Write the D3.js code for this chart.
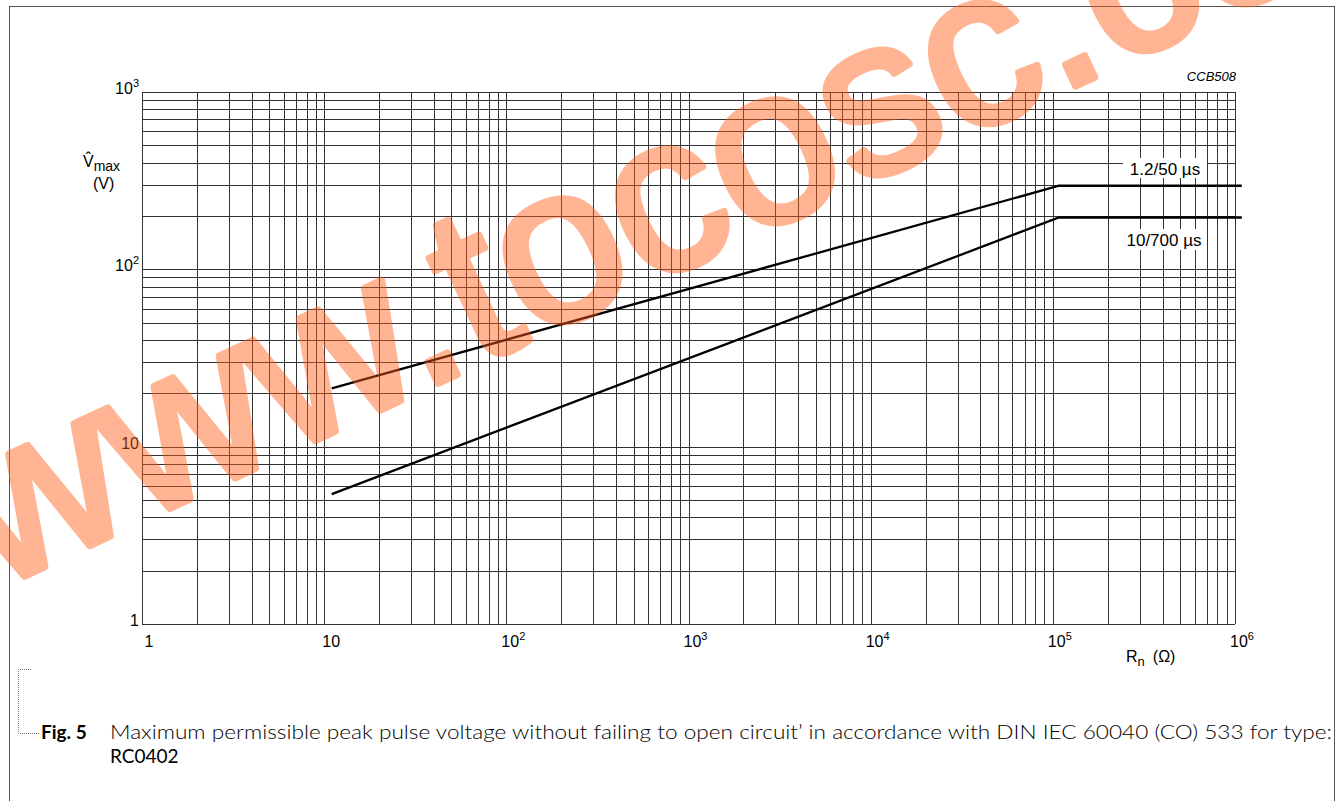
<!DOCTYPE html>
<html>
<head>
<meta charset="utf-8">
<script src="https://cdn.jsdelivr.net/npm/d3@7"></script>
<style>
  html, body { margin: 0; padding: 0; background: #fff; }
  svg { display: block; }
</style>
</head>
<body>
<svg id="chart" width="1340" height="801"></svg>
<script>
// values
const xDecades = [1, 10, 100, 1e3, 1e4, 1e5, 1e6];
const yDecades = [1, 10, 100, 1e3];
const seriesNames = ['1.2/50 µs', '10/700 µs'];
const rn = [11, 1.08e5, 1.09e6];
const v50 = [21.3, 296, 296];
const v700 = [5.4, 196, 196];
const captionFig = 'Fig. 5';
const captionText = 'Maximum permissible peak pulse voltage without failing to open circuit’ in accordance with DIN IEC 60040 (CO) 533 for type:';
const captionType = 'RC0402';
const watermark = 'www.tocosc.com';

const plot = { left: 142, right: 1235, top: 92, bottom: 624 };

const svg = d3.select('#chart');

const x = d3.scaleLog().domain([1, 1e6]).range([plot.left, plot.right]);
const y = d3.scaleLog().domain([1, 1e3]).range([plot.bottom, plot.top]);

// outer frame
svg.append('rect')
    .attr('x', 9.5).attr('y', 6.5)
    .attr('width', 1325).attr('height', 820)
    .attr('fill', 'none')
    .attr('stroke', '#555')
    .attr('stroke-width', 1);

// grid
const gGrid = svg.append('g')
    .attr('stroke', '#333')
    .attr('stroke-width', 1.2)
    .attr('shape-rendering', 'crispEdges');

gGrid.selectAll('line.v')
    .data(x.ticks())
    .enter().append('line')
    .attr('class', 'v')
    .attr('x1', d => Math.round(x(d)) + 0.5)
    .attr('x2', d => Math.round(x(d)) + 0.5)
    .attr('y1', plot.top)
    .attr('y2', plot.bottom);

gGrid.selectAll('line.h')
    .data(y.ticks())
    .enter().append('line')
    .attr('class', 'h')
    .attr('y1', d => Math.round(y(d)) + 0.5)
    .attr('y2', d => Math.round(y(d)) + 0.5)
    .attr('x1', plot.left)
    .attr('x2', plot.right);

// tick labels
const tickFont = 'Liberation Sans, Arial, Helvetica, sans-serif';

function powLabel(sel, d) {
    const p = Math.round(Math.log10(d));
    if (p === 0) {
        sel.text('1');
    } else if (p === 1) {
        sel.text('10');
    } else {
        sel.append('tspan').text('10');
        sel.append('tspan').attr('font-size', 11).attr('dy', -7).text(p);
    }
}

svg.append('g')
    .attr('font-family', tickFont)
    .attr('font-size', 16)
    .attr('fill', '#000')
    .selectAll('text')
    .data(xDecades)
    .enter().append('text')
    .attr('x', d => x(d) + 7)
    .attr('y', 647)
    .attr('text-anchor', 'middle')
    .each(function (d) { powLabel(d3.select(this), d); });

svg.append('g')
    .attr('font-family', tickFont)
    .attr('font-size', 16)
    .attr('fill', '#000')
    .selectAll('text')
    .data(yDecades)
    .enter().append('text')
    .attr('x', 139)
    .attr('y', d => y(d) + 2)
    .attr('text-anchor', 'end')
    .each(function (d) { powLabel(d3.select(this), d); });

// axis titles
const yTitle = svg.append('text')
    .attr('font-family', tickFont)
    .attr('font-size', 16)
    .attr('x', 83)
    .attr('y', 167);
yTitle.append('tspan').text('V̂');
yTitle.append('tspan').attr('font-size', 14).attr('dy', 4).text('max');
svg.append('text')
    .attr('font-family', tickFont)
    .attr('font-size', 16)
    .attr('x', 93)
    .attr('y', 189)
    .text('(V)');

const xTitle = svg.append('text')
    .attr('font-family', tickFont)
    .attr('font-size', 16)
    .attr('x', 1126)
    .attr('y', 662);
xTitle.append('tspan').text('R');
xTitle.append('tspan').attr('font-size', 13).attr('dy', 4).text('n');
xTitle.append('tspan').attr('dy', -4).attr('dx', 8).text('(Ω)');

svg.append('text')
    .attr('font-family', tickFont)
    .attr('font-size', 13)
    .attr('font-style', 'italic')
    .attr('x', 1236)
    .attr('y', 81)
    .attr('text-anchor', 'end')
    .text('CCB508');

// curves
const line = d3.line()
    .x(d => x(d[0]))
    .y(d => y(d[1]));

const series = [
    rn.map((r, i) => [r, v50[i]]),
    rn.map((r, i) => [r, v700[i]]),
];

svg.append('g')
    .attr('fill', 'none')
    .attr('stroke', '#000')
    .attr('stroke-width', 2.3)
    .selectAll('path')
    .data(series)
    .enter().append('path')
    .attr('d', line);

// curve labels with white boxes
const labelPos = [
    { x: 1165, y: 175, box: [1123, 158, 84, 20] },
    { x: 1164, y: 246, box: [1120, 229, 87, 21] },
];
const gLab = svg.append('g');
seriesNames.forEach((name, i) => {
    const p = labelPos[i];
    gLab.append('rect')
        .attr('x', p.box[0]).attr('y', p.box[1])
        .attr('width', p.box[2]).attr('height', p.box[3])
        .attr('fill', '#fff');
    gLab.append('text')
        .attr('font-family', tickFont)
        .attr('font-size', 17)
        .attr('x', p.x)
        .attr('y', p.y)
        .attr('text-anchor', 'middle')
        .text(name);
});

// caption
const capFont = 'Lato, "Open Sans", "DejaVu Sans", sans-serif';
svg.append('path')
    .attr('d', 'M31,669.5 H18.5 V733.5 H40')
    .attr('fill', 'none')
    .attr('stroke', '#777')
    .attr('stroke-width', 1)
    .attr('stroke-dasharray', '1,1');

svg.append('text')
    .attr('font-family', capFont)
    .attr('font-size', 19)
    .attr('font-weight', 700)
    .attr('x', 41)
    .attr('y', 739)
    .text(captionFig);

svg.append('text')
    .attr('font-family', capFont)
    .attr('font-size', 19)
    .attr('font-weight', 300)
    .attr('x', 110)
    .attr('y', 739)
    .attr('textLength', 1222)
    .attr('lengthAdjust', 'spacingAndGlyphs')
    .text(captionText);

svg.append('text')
    .attr('font-family', capFont)
    .attr('font-size', 19)
    .attr('font-weight', 400)
    .attr('x', 110)
    .attr('y', 763)
    .text(captionType);

// watermark on top, thickened with a stroke of the same colour
svg.append('g')
    .attr('opacity', 0.45)
    .append('text')
    .attr('font-family', 'Liberation Sans, Arial, sans-serif')
    .attr('font-weight', 400)
    .attr('font-size', 222)
    .attr('fill', '#ff5a14')
    .attr('stroke', '#ff5a14')
    .attr('stroke-width', 7)
    .attr('stroke-linejoin', 'round')
    .attr('transform', 'translate(-5,590) rotate(-25)')
    .text(watermark);
</script>
</body>
</html>
